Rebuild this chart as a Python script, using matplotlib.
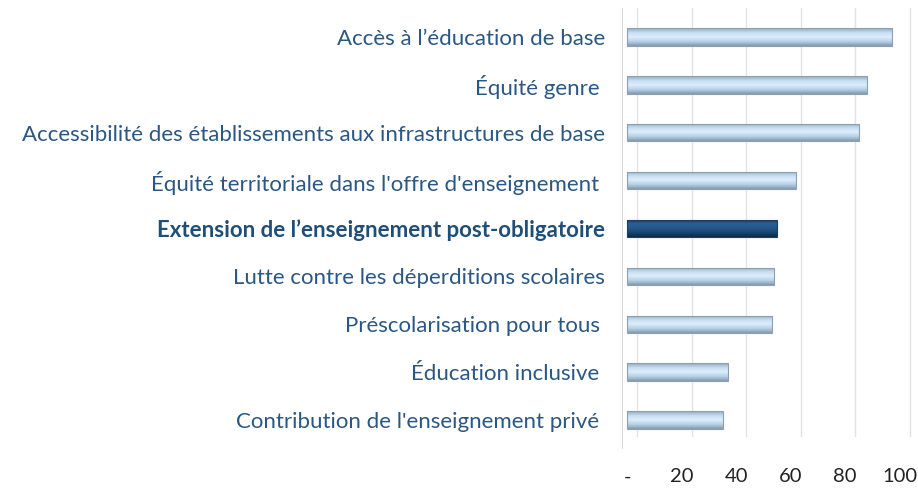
import matplotlib
matplotlib.use("Agg")
import matplotlib.pyplot as plt
import matplotlib.transforms as mtransforms
import numpy as np
from matplotlib.colors import LinearSegmentedColormap

categories = [
    "Accès à l\u2019éducation de base",
    "Équité genre ",
    "Accessibilité des établissements aux infrastructures de base",
    "Équité territoriale dans l'offre d'enseignement ",
    "Extension de l\u2019enseignement post-obligatoire",
    "Lutte contre les déperditions scolaires",
    "Préscolarisation pour tous ",
    "Éducation inclusive ",
    "Contribution de l'enseignement privé ",
]
values = [97, 88, 85, 62, 55, 54, 53, 37, 35]
highlight = "Extension de l\u2019enseignement post-obligatoire"
xticks = [0, 20, 40, 60, 80, 100]
xticklabels = ["-", "20", "40", "60", "80", "100"]

plt.rcParams['font.family'] = ['Lato', 'DejaVu Sans']

W, H = 918, 488
fig = plt.figure(figsize=(W / 100, H / 100), dpi=100)
ax = fig.add_axes([622 / W, (488 - 449) / H, 294 / W, 441 / H])

y = np.arange(len(categories))
bars = ax.barh(y, values, height=0.37, color="none", edgecolor="none", zorder=3)

ax.set_xlim(-2, 106)
ax.set_ylim(len(categories) - 0.4, -0.6)

# cylinder-like shading via clipped gradients
grad = np.linspace(0, 1, 64).reshape(-1, 1)
light_cmap = LinearSegmentedColormap.from_list(
    "light", ["#93A8BD", "#C6DEF2", "#DDECF9", "#B7D1E9", "#8498AD"])
dark_cmap = LinearSegmentedColormap.from_list(
    "dark", ["#123454", "#2B6196", "#25578A", "#1A4670", "#0D2842"])
for cat, bar in zip(categories, bars):
    x0, y0 = bar.get_x(), bar.get_y()
    w, h = bar.get_width(), bar.get_height()
    cmap = dark_cmap if cat == highlight else light_cmap
    im = ax.imshow(grad, cmap=cmap, aspect="auto",
                   extent=(x0, x0 + w, y0 + h, y0), zorder=3,
                   interpolation="bilinear")
    im.set_clip_path(bar)
    edge = "#1A3F66" if cat == highlight else "#8C9FB3"
    ax.add_patch(plt.Rectangle((x0, y0), w, h, fill=False, edgecolor=edge,
                               linewidth=0.8, zorder=4))

# gridlines (back wall, slightly offset as in 3D view)
off = mtransforms.offset_copy(ax.get_xaxis_transform(), fig=fig, x=10, y=0, units='dots')
for t in xticks:
    ax.plot([t, t], [0.03, 1.0], transform=off, color="#E3E3E3", lw=1.0, zorder=1)
ax.axvline(-2, color="#D0D0D0", lw=1.2, zorder=2)

ax.set_yticks(y)
ax.set_yticklabels(categories, fontsize=16, color="#2A5783")
for lbl in ax.get_yticklabels():
    if lbl.get_text() == highlight:
        lbl.set_fontweight("bold")
        lbl.set_color("#1F4E79")
ax.set_xticks(xticks)
ax.set_xticklabels(xticklabels, fontsize=14.5, color="#222222")
ax.tick_params(axis="y", length=0, pad=12)
ax.tick_params(axis="x", length=0, pad=14)
for s in ax.spines.values():
    s.set_visible(False)

fig.savefig("out.png", dpi=100, facecolor="white")
